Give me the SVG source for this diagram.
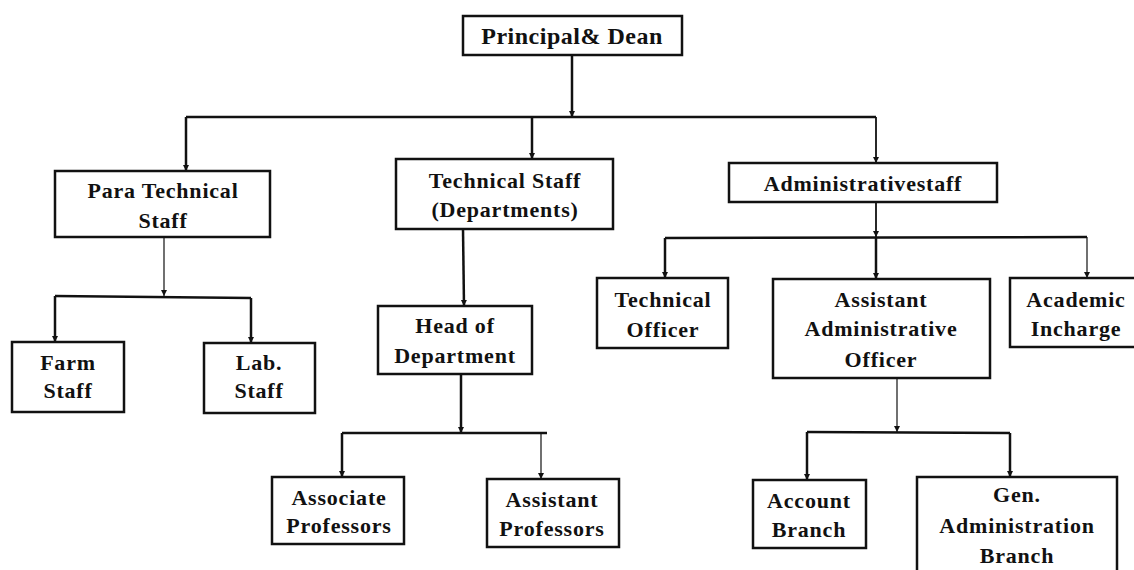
<svg xmlns="http://www.w3.org/2000/svg" width="1134" height="570" viewBox="0 0 1134 570">
<style>
.box{fill:#fff;stroke:#111;stroke-width:2.5}
.t{font-family:"Liberation Serif","Times New Roman",serif;font-weight:bold;font-size:22px;letter-spacing:0.8px;fill:#111;text-anchor:middle}
.title{font-size:24px;letter-spacing:0.5px}
.c{fill:none;stroke:#111;stroke-width:2.5}
.thin{stroke-width:1.2}
.med{stroke-width:1.8}
.a{marker-end:url(#ah)}
</style>
<defs>
<marker id="ah" markerUnits="userSpaceOnUse" markerWidth="7" markerHeight="7" refX="6" refY="3.5" orient="auto">
<path d="M0,0.5 L6,3.5 L0,6.5 z" fill="#111"/>
</marker>
</defs>
<rect width="1134" height="570" fill="#fff"/>
<g id="connectors">
<path class="c a" d="M572,55 V117"/>
<path class="c" d="M186,117 H876"/>
<path class="c a" d="M186,117 V171"/>
<path class="c a" d="M532,117 V159"/>
<path class="c med a" d="M876,117 V163"/>
<path class="c thin a" d="M164,237 V296"/>
<path class="c" d="M55,296 L251,298"/>
<path class="c a" d="M55,296 V342"/>
<path class="c a" d="M251,298 V343"/>
<path class="c a" d="M463,229 L464,306"/>
<path class="c a" d="M461,374 V433"/>
<path class="c" d="M342,433 H547"/>
<path class="c a" d="M342,433 V477"/>
<path class="c thin a" d="M541,433 V479"/>
<path class="c med a" d="M876,202 V237"/>
<path class="c" d="M665,238 L1087,237"/>
<path class="c a" d="M665,238 V278"/>
<path class="c a" d="M876,237 V279"/>
<path class="c thin a" d="M1087,237 V278"/>
<path class="c thin a" d="M897,378 V432"/>
<path class="c" d="M807,432 L1010,433"/>
<path class="c a" d="M807,432 V480"/>
<path class="c a" d="M1010,433 V477"/>
</g>
<g id="principal">
<rect class="box" x="463" y="16" width="219" height="39"/>
<text class="t title" x="572" y="44">Principal&amp; Dean</text>
</g>
<g id="para-technical">
<rect class="box" x="55" y="171" width="215" height="66"/>
<text class="t" x="163" y="198">Para Technical</text>
<text class="t" x="163" y="228">Staff</text>
</g>
<g id="technical-staff">
<rect class="box" x="396" y="159" width="217" height="70"/>
<text class="t" x="505" y="188">Technical Staff</text>
<text class="t" x="505" y="217">(Departments)</text>
</g>
<g id="administrative-staff">
<rect class="box" x="729" y="163" width="268" height="39"/>
<text class="t" x="863" y="191">Administrativestaff</text>
</g>
<g id="farm-staff">
<rect class="box" x="12" y="342" width="112" height="70"/>
<text class="t" x="68" y="370">Farm</text>
<text class="t" x="68" y="398">Staff</text>
</g>
<g id="lab-staff">
<rect class="box" x="204" y="343" width="111" height="70"/>
<text class="t" x="259" y="370">Lab.</text>
<text class="t" x="259" y="398">Staff</text>
</g>
<g id="head-of-department">
<rect class="box" x="378" y="306" width="154" height="68"/>
<text class="t" x="455" y="333">Head of</text>
<text class="t" x="455" y="363">Department</text>
</g>
<g id="associate-professors">
<rect class="box" x="272" y="477" width="132" height="67"/>
<text class="t" x="339" y="505">Associate</text>
<text class="t" x="339" y="533">Professors</text>
</g>
<g id="assistant-professors">
<rect class="box" x="487" y="479" width="132" height="68"/>
<text class="t" x="552" y="507">Assistant</text>
<text class="t" x="552" y="536">Professors</text>
</g>
<g id="technical-officer">
<rect class="box" x="597" y="278" width="131" height="70"/>
<text class="t" x="663" y="307">Technical</text>
<text class="t" x="663" y="337">Officer</text>
</g>
<g id="assistant-administrative-officer">
<rect class="box" x="773" y="279" width="217" height="99"/>
<text class="t" x="881" y="307">Assistant</text>
<text class="t" x="881" y="336">Administrative</text>
<text class="t" x="881" y="367">Officer</text>
</g>
<g id="academic-incharge">
<rect class="box" x="1010" y="278" width="140" height="69"/>
<text class="t" x="1076" y="307">Academic</text>
<text class="t" x="1076" y="336">Incharge</text>
</g>
<g id="account-branch">
<rect class="box" x="753" y="480" width="113" height="68"/>
<text class="t" x="809" y="508">Account</text>
<text class="t" x="809" y="537">Branch</text>
</g>
<g id="gen-administration-branch">
<rect class="box" x="917" y="477" width="200" height="110"/>
<text class="t" x="1017" y="502">Gen.</text>
<text class="t" x="1017" y="533">Administration</text>
<text class="t" x="1017" y="563">Branch</text>
</g>
</svg>
